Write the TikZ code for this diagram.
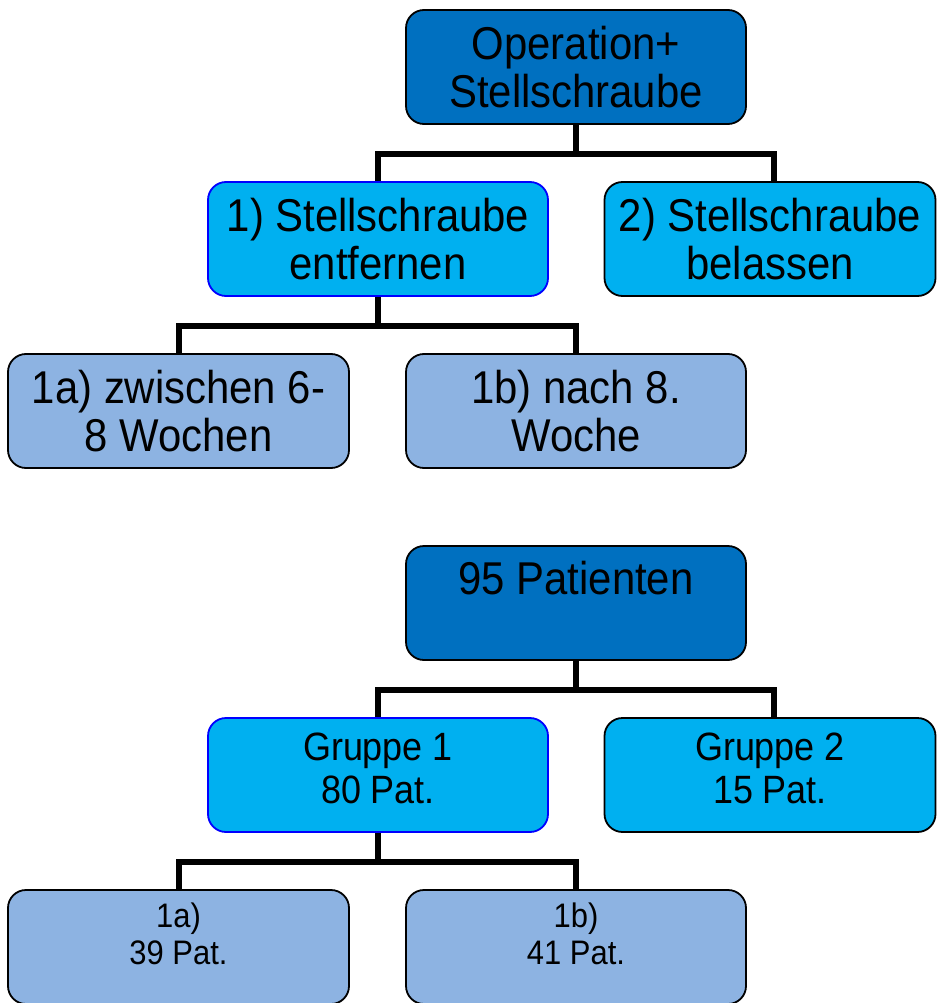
\documentclass[tikz,border=0pt]{standalone}
\usepackage{fontspec}
\setmainfont[FakeStretch=0.91]{Liberation Sans}
\definecolor{dunkel}{HTML}{0070C0}
\definecolor{hell}{HTML}{00B0F0}
\definecolor{blass}{HTML}{8DB3E2}
\tikzset{
  kasten/.style={draw=black, line width=1.8pt, rounded corners=18pt,
    minimum width=340pt, minimum height=114pt, inner sep=0pt, align=center},
  ast/.style={line width=6pt},
  gross/.style={font=\fontsize{46pt}{48pt}\selectfont, align=center},
  mittel/.style={font=\fontsize{39.5pt}{43pt}\selectfont, align=center},
  klein/.style={font=\fontsize{34pt}{37pt}\selectfont, align=center}
}

\begin{document}
\begin{tikzpicture}[x=1pt,y=-1pt]
	\useasboundingbox (0,0) rectangle (937,1003);
	% Plan
	\node[kasten,gross,fill=dunkel] (op) at (576,67) {Operation+\\Stellschraube};
	\node[kasten,gross,fill=hell,draw=blue] (s1) at (378,239) {1) Stellschraube\\entfernen};
	\node[kasten,gross,fill=hell,minimum width=331pt] (s2) at (770,239) {2) Stellschraube\\belassen};
	\node[kasten,gross,fill=blass,minimum width=341pt] (w1a) at (178.5,411) {1a) zwischen 6-\\8 Wochen};
	\node[kasten,gross,fill=blass] (w1b) at (576,411) {1b) nach 8.\\Woche};
	\draw[ast] (op.south) -- ++(0,29) -| ([xshift=4pt]s2.north);
	\draw[ast] (op.south) -- ++(0,29) -| (s1.north);
	\draw[ast] (s1.south) -- ++(0,29) -| (w1a.north);
	\draw[ast] (s1.south) -- ++(0,29) -| (w1b.north);
	% Patienten
	\node[kasten,fill=dunkel] (pat) at (576,603) {};
	\node[gross] (patText) at ([yshift=25pt]pat.center) {95 Patienten};
	\node[kasten,fill=hell,draw=blue] (g1) at (378,775) {};
	\node[mittel] (g1Text) at ([yshift=6.5pt]g1.center) {Gruppe 1\\80 Pat.};
	\node[kasten,fill=hell,minimum width=331pt] (g2) at (770,775) {};
	\node[mittel] (g2Text) at ([yshift=6.5pt]g2.center) {Gruppe 2\\15 Pat.};
	\node[kasten,fill=blass,minimum width=341pt] (p1a) at (178.5,947) {};
	\node[klein] (p1aText) at ([yshift=13.5pt]p1a.center) {1a)\\39 Pat.};
	\node[kasten,fill=blass] (p1b) at (576,947) {};
	\node[klein] (p1bText) at ([yshift=13.5pt]p1b.center) {1b)\\41 Pat.};
	\draw[ast] (pat.south) -- ++(0,29) -| ([xshift=4pt]g2.north);
	\draw[ast] (pat.south) -- ++(0,29) -| (g1.north);
	\draw[ast] (g1.south) -- ++(0,29) -| (p1a.north);
	\draw[ast] (g1.south) -- ++(0,29) -| (p1b.north);
\end{tikzpicture}
\end{document}
